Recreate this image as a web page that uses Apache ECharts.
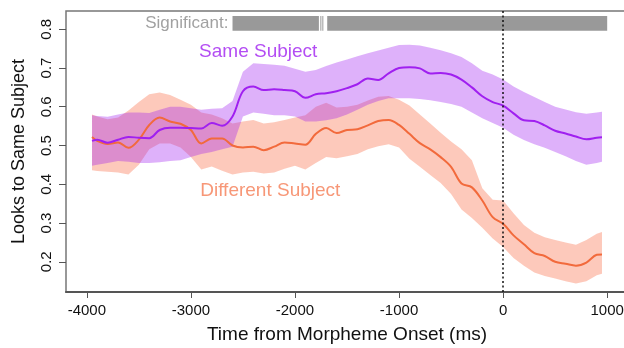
<!DOCTYPE html>
<html>
<head>
<meta charset="utf-8">
<script src="https://cdn.jsdelivr.net/npm/echarts@6/dist/echarts.min.js"></script>
<style>
  html, body { margin: 0; padding: 0; background: #fff; }
  #chart { width: 624px; height: 348px; }
</style>
</head>
<body>
<div id="chart"></div>
<script>
// time (ms from morpheme onset)
const times = [-3950, -3900, -3800, -3700, -3600, -3500, -3400, -3300, -3200, -3100,
  -3000, -2900, -2800, -2700, -2600, -2500, -2400, -2300, -2200, -2100,
  -2000, -1900, -1800, -1700, -1600, -1500, -1400, -1300, -1200, -1100,
  -1000, -900, -800, -700, -600, -500, -400, -300, -200, -100,
  0, 100, 200, 300, 400, 500, 600, 700, 800, 900, 950];

// Same Subject: mean + ribbon
const sameMean = [0.512, 0.515, 0.507, 0.515, 0.522, 0.520, 0.519, 0.540, 0.546, 0.546,
  0.545, 0.544, 0.558, 0.551, 0.575, 0.640, 0.652, 0.643, 0.645, 0.643,
  0.640, 0.623, 0.632, 0.635, 0.640, 0.648, 0.658, 0.673, 0.669, 0.686,
  0.700, 0.702, 0.699, 0.686, 0.687, 0.683, 0.670, 0.650, 0.627, 0.612,
  0.603, 0.583, 0.565, 0.563, 0.552, 0.538, 0.531, 0.523, 0.516, 0.520, 0.521];
const sameHigh = [0.578, 0.576, 0.574, 0.580, 0.585, 0.585, 0.584, 0.592, 0.600, 0.600,
  0.596, 0.592, 0.595, 0.596, 0.615, 0.690, 0.712, 0.710, 0.708, 0.706,
  0.698, 0.690, 0.695, 0.705, 0.714, 0.722, 0.730, 0.738, 0.745, 0.752,
  0.759, 0.760, 0.758, 0.752, 0.746, 0.738, 0.728, 0.712, 0.693, 0.683,
  0.670, 0.652, 0.638, 0.625, 0.612, 0.600, 0.593, 0.586, 0.582, 0.585, 0.587];
const sameLow = [0.448, 0.450, 0.455, 0.460, 0.458, 0.455, 0.455, 0.457, 0.460, 0.462,
  0.470, 0.478, 0.483, 0.490, 0.497, 0.575, 0.585, 0.582, 0.578, 0.578,
  0.575, 0.562, 0.562, 0.565, 0.570, 0.580, 0.592, 0.605, 0.615, 0.622,
  0.622, 0.622, 0.620, 0.617, 0.612, 0.607, 0.600, 0.585, 0.570, 0.558,
  0.546, 0.528, 0.514, 0.503, 0.494, 0.483, 0.472, 0.460, 0.450, 0.455, 0.458];

// Different Subject: mean + ribbon
const diffMean = [0.522, 0.512, 0.504, 0.508, 0.494, 0.515, 0.553, 0.572, 0.562, 0.556,
  0.540, 0.505, 0.518, 0.518, 0.500, 0.495, 0.497, 0.488, 0.497, 0.508,
  0.505, 0.502, 0.530, 0.545, 0.532, 0.540, 0.542, 0.552, 0.563, 0.566,
  0.553, 0.530, 0.506, 0.490, 0.470, 0.445, 0.402, 0.392, 0.358, 0.315,
  0.298, 0.268, 0.245, 0.222, 0.215, 0.200, 0.195, 0.190, 0.198, 0.218, 0.219];
const diffHigh = [0.580, 0.575, 0.568, 0.572, 0.590, 0.612, 0.632, 0.637, 0.630, 0.618,
  0.605, 0.585, 0.580, 0.570, 0.557, 0.562, 0.566, 0.557, 0.560, 0.566,
  0.572, 0.578, 0.600, 0.610, 0.598, 0.600, 0.605, 0.616, 0.626, 0.628,
  0.618, 0.603, 0.580, 0.557, 0.533, 0.510, 0.490, 0.462, 0.390, 0.360,
  0.358, 0.325, 0.295, 0.275, 0.263, 0.256, 0.250, 0.244, 0.256, 0.272, 0.277];
const diffLow = [0.436, 0.434, 0.432, 0.430, 0.425, 0.450, 0.490, 0.505, 0.505, 0.495,
  0.470, 0.438, 0.446, 0.435, 0.425, 0.430, 0.432, 0.428, 0.430, 0.440,
  0.448, 0.438, 0.455, 0.470, 0.467, 0.472, 0.478, 0.490, 0.498, 0.503,
  0.495, 0.466, 0.445, 0.424, 0.403, 0.375, 0.335, 0.313, 0.288, 0.260,
  0.238, 0.210, 0.190, 0.172, 0.163, 0.157, 0.150, 0.144, 0.150, 0.165, 0.169];

// significance windows (ms)
const sigStart = [-2600, -1756, -1737, -1690];
const sigEnd = [-1770, -1748, -1729, 1000];

const xTicks = [-4000, -3000, -2000, -1000, 0, 1000];
const yTicks = [0.2, 0.3, 0.4, 0.5, 0.6, 0.7, 0.8];

// text annotations in data coords
const notes = [
  { text: 'Significant:', x: -2640, y: 0.816 },
  { text: 'Same Subject', x: -2353, y: 0.742 },
  { text: 'Different Subject', x: -2237, y: 0.383 },
];

const FONT = '"Liberation Sans", Arial, sans-serif';
const PURPLE = '#a020f0';
const ORANGE = '#f26a3c';
const noteColors = ['#8a8a8a', PURPLE, '#f57d55'];

function band(low, high, fill) {
  return {
    type: 'custom',
    data: [[times[0], low[0]]],
    silent: true,
    z: 1,
    renderItem: (params, api) => {
      const pts = [];
      for (let i = 0; i < times.length; i++) pts.push(api.coord([times[i], high[i]]));
      for (let i = times.length - 1; i >= 0; i--) pts.push(api.coord([times[i], low[i]]));
      return { type: 'polygon', shape: { points: pts }, style: { fill } };
    },
  };
}

function meanLine(values, color) {
  return {
    type: 'line',
    data: times.map((t, i) => [t, values[i]]),
    showSymbol: false,
    smooth: 0.35,
    z: 2,
    lineStyle: { color, width: 2 },
  };
}

const chart = echarts.init(document.getElementById('chart'));

chart.setOption({
  animation: false,
  grid: {
    left: 66, top: 11, width: 562, height: 281,
    outerBoundsMode: 'none',
    show: true, borderColor: '#777', borderWidth: 1.5,
  },
  xAxis: {
    type: 'value', min: -4200, max: 1200,
    axisLine: { show: true, onZero: false, lineStyle: { color: '#555', width: 2 } },
    axisTick: { show: true, inside: false, length: 6, customValues: xTicks, lineStyle: { color: '#555' } },
    axisLabel: {
      customValues: xTicks, margin: 11, color: '#111', fontSize: 15, fontFamily: FONT,
      formatter: v => String(v),
    },
    splitLine: { show: false },
    name: 'Time from Morpheme Onset (ms)',
    nameLocation: 'middle', nameGap: 33,
    nameTextStyle: { color: '#111', fontSize: 19, fontFamily: FONT },
  },
  yAxis: {
    type: 'value', min: 0.122, max: 0.847,
    axisLine: { show: false, onZero: false },
    axisTick: { show: true, inside: false, length: 7, customValues: yTicks, lineStyle: { color: '#555' } },
    axisLabel: {
      customValues: yTicks, rotate: 90, margin: 12, color: '#111', fontSize: 15, fontFamily: FONT,
      formatter: v => v.toFixed(1),
    },
    splitLine: { show: false },
    name: 'Looks to Same Subject',
    nameLocation: 'middle', nameGap: 38, nameRotate: 90,
    nameTextStyle: { color: '#111', fontSize: 18, fontFamily: FONT },
  },
  series: [
    band(diffLow, diffHigh, 'rgba(250,100,60,0.35)'),
    meanLine(diffMean, ORANGE),
    band(sameLow, sameHigh, 'rgba(160,32,240,0.35)'),
    Object.assign(meanLine(sameMean, PURPLE), {
      markLine: {
        silent: true, symbol: 'none', label: { show: false },
        lineStyle: { color: '#111', type: [2, 2.5], width: 1.5 },
        data: [{ xAxis: 0 }],
      },
    }),
    {
      type: 'custom',
      silent: true,
      z: 3,
      data: sigStart.map((s, i) => [s, sigEnd[i]]),
      renderItem: (params, api) => {
        const a = api.coord([api.value(0), 0.834]);
        const b = api.coord([api.value(1), 0.796]);
        return {
          type: 'rect',
          shape: { x: a[0], y: a[1], width: Math.max(1, b[0] - a[0]), height: b[1] - a[1] },
          style: { fill: '#999' },
        };
      },
    },
    {
      type: 'scatter',
      silent: true,
      symbolSize: 0,
      z: 4,
      data: notes.map((n, i) => ({
        value: [n.x, n.y],
        name: n.text,
        label: i === 0
          ? { color: noteColors[i], fontSize: 17, align: 'right' }
          : { color: noteColors[i] },
      })),
      label: {
        show: true, position: 'inside', fontFamily: FONT, fontSize: 19,
        formatter: p => p.name,
      },
    },
  ],
});
</script>
</body>
</html>
